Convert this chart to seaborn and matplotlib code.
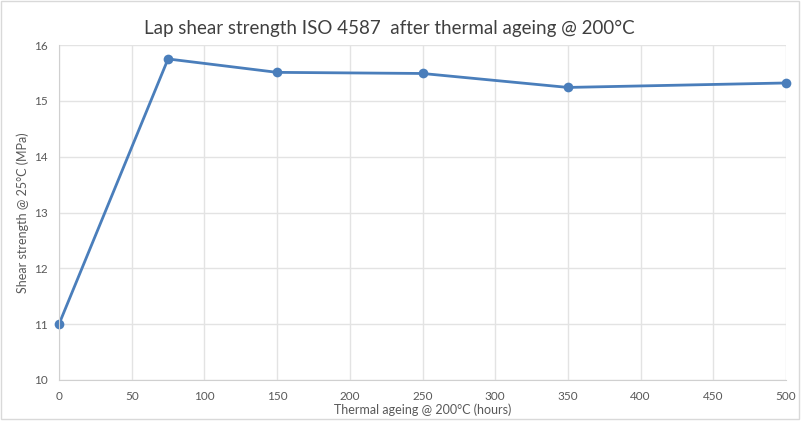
import matplotlib
matplotlib.use('Agg')
import matplotlib.pyplot as plt
import seaborn as sns

# Data
hours = [0, 75, 150, 250, 350, 500]
strength = [11.0, 15.75, 15.51, 15.49, 15.24, 15.32]
x_ticks = [0, 50, 100, 150, 200, 250, 300, 350, 400, 450, 500]
y_ticks = [10, 11, 12, 13, 14, 15, 16]

sns.set_style('white')
plt.rcParams['font.family'] = ['Lato', 'DejaVu Sans']

fig = plt.figure(figsize=(8.01, 4.21), dpi=100)
ax = fig.add_axes([59 / 801, 1 - 380 / 421, (786 - 59) / 801, (380 - 45) / 421])

sns.lineplot(x=hours, y=strength, marker='o', color='#4A7EBB', linewidth=2,
             markersize=7, markeredgewidth=0, clip_on=False, ax=ax)

ax.set_xlim(0, 500)
ax.set_ylim(10, 16)
ax.set_xticks(x_ticks)
ax.set_yticks(y_ticks)
ax.grid(True, color='#E3E3E3', linewidth=1)
ax.set_axisbelow(True)
for side in ['top', 'right']:
    ax.spines[side].set_visible(False)
for side in ['left', 'bottom']:
    ax.spines[side].set_color('#D0D0D0')
ax.tick_params(axis='both', labelsize=8.5, colors='#595959', length=0, pad=8)

ax.set_xlabel('Thermal ageing @ 200°C (hours)', fontsize=9, color='#595959', labelpad=1)
ax.set_ylabel('Shear strength @ 25°C (MPa)', fontsize=9, color='#595959', labelpad=4)

fig.text(389 / 801, 1 - 28 / 421, 'Lap shear strength ISO 4587  after thermal ageing @ 200°C',
         ha='center', va='center', fontsize=13.5, color='#404040')

# light border around the figure
fig.patches.append(plt.Rectangle((0.001, 0.004), 0.997, 0.993, transform=fig.transFigure,
                                 fill=False, edgecolor='#D9D9D9', linewidth=1))

fig.savefig('out.png', dpi=100)
